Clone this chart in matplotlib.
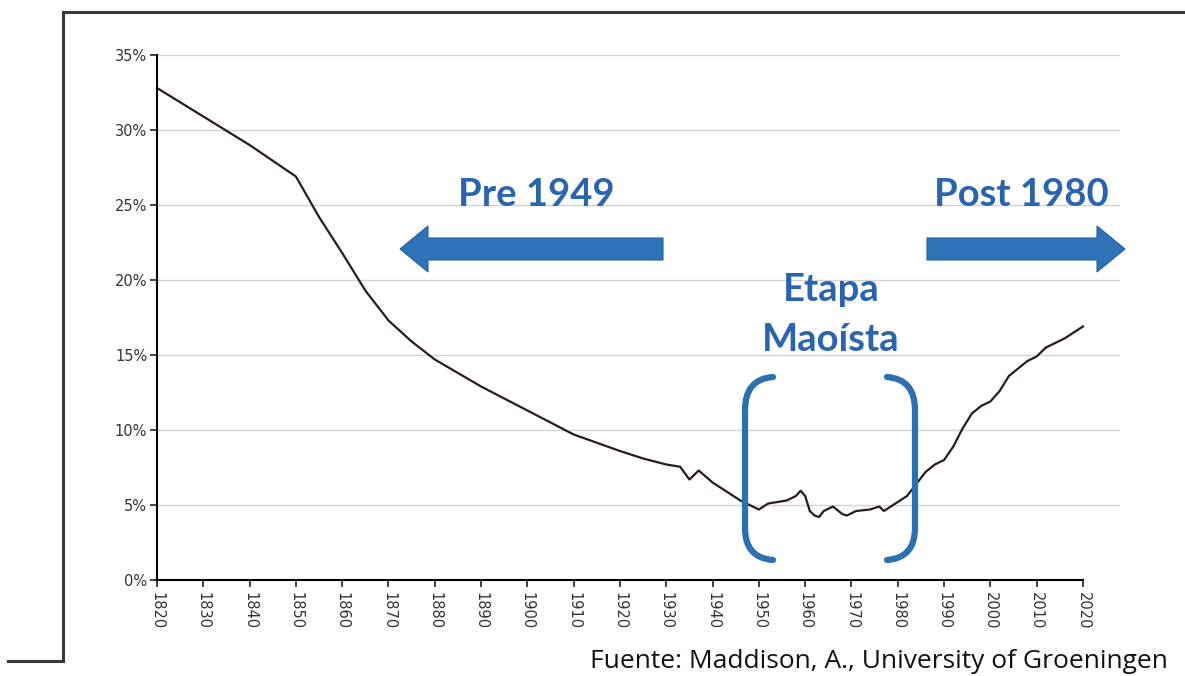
import numpy as np
import matplotlib
matplotlib.use("Agg")
import matplotlib.pyplot as plt
from matplotlib.transforms import Affine2D
from matplotlib.patches import FancyArrow, PathPatch
from matplotlib.path import Path
from matplotlib.lines import Line2D

# participacion de China en el PIB mundial (%)
years = [1820, 1830, 1840, 1850, 1855, 1860, 1865, 1870, 1875, 1880,
         1890, 1900, 1910, 1920, 1925, 1930, 1933, 1935, 1937, 1940,
         1943, 1946, 1950, 1952, 1954, 1956, 1958, 1959, 1960, 1961,
         1962, 1963, 1964, 1966, 1968, 1969, 1971, 1974, 1976, 1977,
         1978, 1980, 1982, 1984, 1986, 1988, 1990, 1992, 1994, 1996,
         1998, 2000, 2002, 2004, 2006, 2008, 2010, 2012, 2014, 2016,
         2018, 2020]
share = [32.8, 30.9, 29.0, 26.9, 24.2, 21.8, 19.3, 17.3, 15.9, 14.7,
         12.9, 11.3, 9.7, 8.6, 8.1, 7.7, 7.55, 6.7, 7.3, 6.5,
         5.9, 5.3, 4.7, 5.1, 5.2, 5.3, 5.6, 5.95, 5.6, 4.6,
         4.3, 4.2, 4.6, 4.9, 4.4, 4.3, 4.6, 4.7, 4.9, 4.6,
         4.8, 5.2, 5.6, 6.4, 7.2, 7.7, 8.0, 8.9, 10.1, 11.1,
         11.6, 11.9, 12.6, 13.6, 14.1, 14.6, 14.9, 15.5, 15.8, 16.1,
         16.5, 16.9]

xticks = list(range(1820, 2021, 10))
yticks = [0, 5, 10, 15, 20, 25, 30, 35]

W, H = 1185, 676
fig = plt.figure(figsize=(W / 100, H / 100), dpi=100)
# coordenadas en pixeles con origen arriba a la izquierda
px = Affine2D().scale(1 / W, -1 / H).translate(0, 1) + fig.transFigure

ax = fig.add_axes([157 / W, 1 - 580 / H, (1120 - 157) / W, 525 / H])
ax.plot(years, share, color="#2b1c1c", lw=1.6)
ax.set_xlim(1820, 2028)
ax.set_ylim(0, 35)

for v in yticks[1:]:
    ax.axhline(v, color="#d2d2d2", lw=1.0, zorder=0)

ax.set_xticks(xticks)
ax.set_xticklabels([str(x) for x in xticks], rotation=270)
ax.set_yticks(yticks)
ax.set_yticklabels([f"{v}%" for v in yticks])
ax.tick_params(axis="both", direction="out", length=5, width=1.2,
               labelsize=10.5, labelcolor="#333333", color="#222222")
ax.tick_params(axis="y", pad=2)
ax.tick_params(axis="x", pad=4)
for s in ["top", "right"]:
    ax.spines[s].set_visible(False)
ax.spines["left"].set_linewidth(1.5)
ax.spines["bottom"].set_linewidth(1.5)
ax.spines["bottom"].set_bounds(1820, 2020)

blue_txt = "#2a63ae"
blue = "#2e72b8"
fnt = "Lato"
tsize = 27.5

fig.text(536, 195, "Pre 1949", transform=px, ha="center", va="center",
         fontsize=tsize, fontweight="bold", color=blue_txt, family=fnt)
fig.text(1021, 195, "Post 1980", transform=px, ha="center", va="center",
         fontsize=tsize, fontweight="bold", color=blue_txt, family=fnt)
fig.text(831, 290, "Etapa", transform=px, ha="center", va="center",
         fontsize=tsize, fontweight="bold", color=blue_txt, family=fnt)
fig.text(831, 340, "Maoísta", transform=px, ha="center", va="center",
         fontsize=tsize, fontweight="bold", color=blue_txt, family=fnt)

# flechas
for x0, dx in [(663, -263), (927, 198)]:
    fig.patches.append(FancyArrow(x0, 249, dx, 0, width=22, head_width=46,
                                  head_length=28, length_includes_head=True,
                                  transform=px, color=blue, ec="#2560a5", lw=0.8))

# corchetes de la etapa maoista
def bracket(xv, xh):
    verts = [(xh, 377), (xv, 379), (xv, 410), (xv, 528), (xv, 558), (xh, 560)]
    codes = [Path.MOVETO, Path.CURVE3, Path.CURVE3, Path.LINETO, Path.CURVE3, Path.CURVE3]
    return PathPatch(Path(verts, codes), transform=px, fill=False,
                     ec="#2d70b0", lw=4.5, capstyle="round")

fig.patches.append(bracket(745, 773))
fig.patches.append(bracket(915, 887))

# marco
frame = dict(transform=px, color="#3a3a3a", lw=2.2)
fig.lines.append(Line2D([63, 1185], [12, 12], **frame))
fig.lines.append(Line2D([63, 63], [12, 661], **frame))
fig.lines.append(Line2D([8, 63], [661, 661], **frame))

fig.text(1168, 661, "Fuente: Maddison, A., University of Groeningen", transform=px,
         ha="right", va="center", fontsize=19, color="#111111", family="Open Sans")

fig.savefig("out.png", dpi=100)
